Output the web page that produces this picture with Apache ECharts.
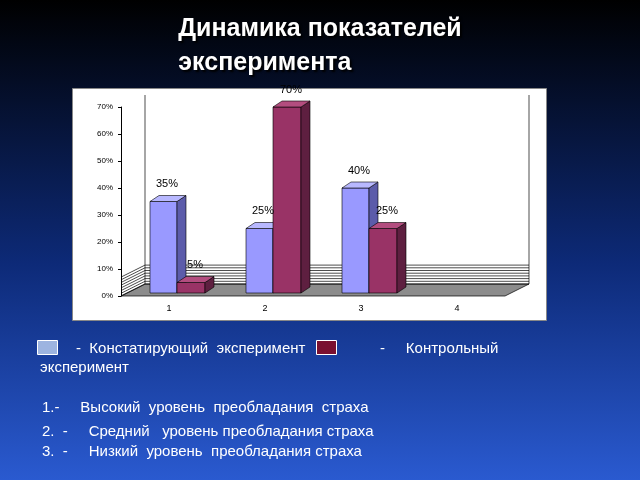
<!DOCTYPE html>
<html><head><meta charset="utf-8">
<script src="https://cdn.jsdelivr.net/npm/echarts@6/dist/echarts.min.js"></script>
<style>html,body{margin:0;padding:0;background:#000}#c{width:640px;height:480px}</style>
</head><body><div id="c"></div>
<script>
var categories = ['1', '2', '3', '4'];
var ascertaining = [35, 25, 40, null];
var control = [5, 70, 25, null];
var ticks = [0, 10, 20, 30, 40, 50, 60, 70];

var DX = 24, DY = -12;   // depth of the back wall
var BD = 9, BDY = -6;    // depth of bars

function bar3d(x0, x1, yTop, yBase, front, side, top) {
  return [
    {type: 'polygon', shape: {points: [[x0, yTop], [x1, yTop], [x1, yBase], [x0, yBase]]}, style: {fill: front, stroke: '#000', lineWidth: 0.6}},
    {type: 'polygon', shape: {points: [[x1, yTop], [x1 + BD, yTop + BDY], [x1 + BD, yBase + BDY], [x1, yBase]]}, style: {fill: side, stroke: '#000', lineWidth: 0.6}},
    {type: 'polygon', shape: {points: [[x0, yTop], [x0 + BD, yTop + BDY], [x1 + BD, yTop + BDY], [x1, yTop]]}, style: {fill: top, stroke: '#000', lineWidth: 0.6}}
  ];
}

var chart = echarts.init(document.getElementById('c'));
chart.setOption({
  backgroundColor: new echarts.graphic.LinearGradient(0, 0, 0, 1, [
    {offset: 0, color: '#000000'}, {offset: 0.55, color: '#0d2a78'}, {offset: 1, color: '#2a5ad0'}]),
  graphic: [
    {type: 'rect', left: 72, top: 88, shape: {width: 474, height: 232}, style: {fill: '#fff', stroke: '#888'}, z: -10},
    {type: 'text', left: 'center', top: 12, style: {text: 'Динамика показателей\nэксперимента', fill: '#fff', font: 'bold 25px Arial', align: 'center', lineHeight: 34, textShadowColor: '#000', textShadowBlur: 2, textShadowOffsetX: 2, textShadowOffsetY: 2}},
    {type: 'rect', left: 37, top: 340, shape: {width: 20, height: 14}, style: {fill: '#9db4e0', stroke: '#fff'}},
    {type: 'rect', left: 316, top: 340, shape: {width: 20, height: 14}, style: {fill: '#7a1030', stroke: '#fff'}},
    {type: 'text', left: 76, top: 341, style: {text: '-  Констатирующий  эксперимент', fill: '#fff', font: '15px Arial'}},
    {type: 'text', left: 380, top: 341, style: {text: '-     Контрольный', fill: '#fff', font: '15px Arial'}},
    {type: 'text', left: 40, top: 360, style: {text: 'эксперимент', fill: '#fff', font: '15px Arial'}},
    {type: 'text', left: 42, top: 400, style: {text: '1.-     Высокий  уровень  преобладания  страха', fill: '#fff', font: '15px Arial'}},
    {type: 'text', left: 42, top: 424, style: {text: '2.  -     Средний   уровень преобладания страха', fill: '#fff', font: '15px Arial'}},
    {type: 'text', left: 42, top: 444, style: {text: '3.  -     Низкий  уровень  преобладания страха', fill: '#fff', font: '15px Arial'}}
  ],
  grid: {left: 121, right: 135, top: 107, bottom: 184},
  xAxis: {type: 'category', data: categories, axisTick: {show: false}, axisLine: {show: false},
    axisLabel: {color: '#000', fontSize: 9, fontFamily: 'Arial', margin: 8}},
  yAxis: {type: 'value', min: 0, max: 70, interval: 10,
    axisLine: {show: true, lineStyle: {color: '#000'}}, axisTick: {show: true, length: 3, lineStyle: {color: '#000'}},
    splitLine: {show: false},
    axisLabel: {color: '#000', fontSize: 8, fontFamily: 'Arial', formatter: '{value}%'}},
  series: [
    {type: 'custom', name: 'wall', data: ticks, z: 1, silent: true,
      renderItem: function (params, api) {
        var v = api.value(0);
        var p0 = api.coord([0, v]), p3 = api.coord([3, v]);
        var left = p0[0] - 48, right = p3[0] + 48;
        var ch = [{type: 'line', shape: {x1: left + DX, y1: p0[1] + DY, x2: right + DX, y2: p0[1] + DY}, style: {stroke: '#000', lineWidth: 0.7}}];
        if (v === 0) {
          var top = api.coord([0, 70])[1];
          ch.unshift({type: 'polygon', shape: {points: [[left, p0[1]], [right, p0[1]], [right + DX, p0[1] + DY], [left + DX, p0[1] + DY]]}, style: {fill: '#8c8c8c', stroke: '#000', lineWidth: 0.7}});
          ch.push({type: 'line', shape: {x1: left + DX, y1: p0[1] + DY, x2: left + DX, y2: top + DY}, style: {stroke: '#000', lineWidth: 0.7}});
          ch.push({type: 'line', shape: {x1: right + DX, y1: p0[1] + DY, x2: right + DX, y2: top + DY}, style: {stroke: '#000', lineWidth: 0.7}});
          ch.push({type: 'line', shape: {x1: left, y1: p0[1], x2: left + DX, y2: p0[1] + DY}, style: {stroke: '#000', lineWidth: 0.7}});
        } else {
          ch.push({type: 'line', shape: {x1: left, y1: p0[1], x2: left + DX, y2: p0[1] + DY}, style: {stroke: '#000', lineWidth: 0.7}});
        }
        return {type: 'group', children: ch};
      }},
    {type: 'custom', name: 'bars', z: 2,
      data: categories.map(function (c, i) { return [i, ascertaining[i], control[i]]; }),
      renderItem: function (params, api) {
        var i = api.value(0), a = api.value(1), b = api.value(2);
        if (isNaN(a)) return null;
        var base = api.coord([i, 0]), pa = api.coord([i, a]), pb = api.coord([i, b]);
        var cx = base[0], yb = base[1] - 3;
        var ch = [];
        ch = ch.concat(bar3d(cx - 19, cx + 8, pa[1], yb, '#9999ff', '#5c5caa', '#b8b8ff'));
        ch = ch.concat(bar3d(cx + 8, cx + 36, pb[1], yb, '#993366', '#5e1f40', '#b34d7f'));
        ch.push({type: 'text', style: {text: a + '%', x: cx - 2, y: pa[1] - 12, align: 'center', verticalAlign: 'bottom', font: '11px Arial', fill: '#000'}});
        ch.push({type: 'text', style: {text: b + '%', x: cx + 26, y: pb[1] - 12, align: 'center', verticalAlign: 'bottom', font: '11px Arial', fill: '#000'}});
        return {type: 'group', children: ch};
      }}
  ]
});
</script></body></html>
